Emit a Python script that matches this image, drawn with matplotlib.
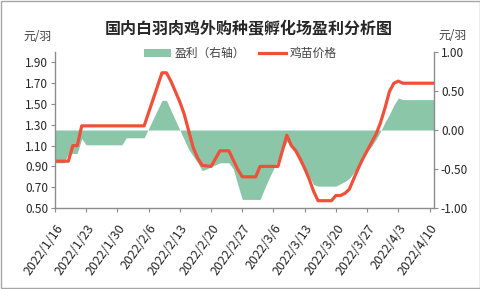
import numpy as np
import pandas as pd
import matplotlib
matplotlib.use("Agg")
import matplotlib.pyplot as plt
from matplotlib.patches import Patch, Rectangle
from matplotlib.lines import Line2D

plt.rcParams['font.family'] = ['Noto Sans CJK SC', 'DejaVu Sans']

# 鸡苗价格（元/羽），按日期的折点
price_dates = ["2022-01-16", "2022-01-19", "2022-01-20", "2022-01-21", "2022-01-22",
               "2022-02-05", "2022-02-09", "2022-02-10", "2022-02-11", "2022-02-12",
               "2022-02-13", "2022-02-14", "2022-02-15", "2022-02-16", "2022-02-17",
               "2022-02-18", "2022-02-20", "2022-02-22", "2022-02-24", "2022-02-25",
               "2022-02-26", "2022-02-27", "2022-03-02", "2022-03-03", "2022-03-07",
               "2022-03-09", "2022-03-10", "2022-03-11", "2022-03-12", "2022-03-13",
               "2022-03-14", "2022-03-15", "2022-03-16", "2022-03-19", "2022-03-20",
               "2022-03-21", "2022-03-22", "2022-03-23", "2022-03-24", "2022-03-25",
               "2022-03-26", "2022-03-27", "2022-03-28", "2022-03-29", "2022-03-30",
               "2022-03-31", "2022-04-01", "2022-04-02", "2022-04-03", "2022-04-04",
               "2022-04-11"]
price_vals = [0.95, 0.95, 1.10, 1.10, 1.29,
              1.29, 1.80, 1.80, 1.72, 1.62,
              1.52, 1.40, 1.24, 1.08, 0.98,
              0.91, 0.90, 1.05, 1.05, 0.96,
              0.87, 0.80, 0.80, 0.90, 0.90,
              1.20, 1.10, 1.05, 0.97, 0.88,
              0.78, 0.66, 0.57, 0.57, 0.62,
              0.62, 0.64, 0.68, 0.78, 0.88,
              0.97, 1.05, 1.13, 1.21, 1.32,
              1.46, 1.62, 1.70, 1.72, 1.70,
              1.70]

# 盈利（元/羽，右轴），按日期的折点
profit_dates = ["2022-01-16", "2022-01-18", "2022-01-19", "2022-01-21", "2022-01-22",
                "2022-01-23", "2022-01-31", "2022-02-01", "2022-02-05", "2022-02-09",
                "2022-02-10", "2022-02-13", "2022-02-15", "2022-02-17", "2022-02-18",
                "2022-02-19", "2022-02-22", "2022-02-24", "2022-02-25", "2022-02-26",
                "2022-02-27", "2022-03-03", "2022-03-04", "2022-03-05", "2022-03-06",
                "2022-03-07", "2022-03-08", "2022-03-09", "2022-03-10", "2022-03-11",
                "2022-03-12", "2022-03-13", "2022-03-14", "2022-03-15", "2022-03-16",
                "2022-03-20", "2022-03-21", "2022-03-22", "2022-03-23", "2022-03-24",
                "2022-03-25", "2022-03-26", "2022-03-27", "2022-03-28", "2022-03-29",
                "2022-03-30", "2022-03-31", "2022-04-01", "2022-04-02", "2022-04-03",
                "2022-04-04", "2022-04-11"]
profit_vals = [-0.42, -0.42, -0.30, -0.30, -0.11,
               -0.19, -0.19, -0.10, -0.10, 0.38,
               0.38, 0.00, -0.25, -0.42, -0.52,
               -0.50, -0.42, -0.42, -0.50, -0.70,
               -0.89, -0.89, -0.75, -0.62, -0.50,
               -0.38, -0.27, -0.15, -0.18, -0.30,
               -0.40, -0.50, -0.59, -0.70, -0.72,
               -0.72, -0.69, -0.66, -0.62, -0.55,
               -0.45, -0.35, -0.27, -0.21, -0.12,
               -0.02, 0.10, 0.20, 0.32, 0.41,
               0.39, 0.39]

tick_dates = pd.date_range("2022-01-16", "2022-04-10", freq="7D")

px = pd.to_datetime(price_dates)
gx = pd.to_datetime(profit_dates)

red = '#F0503A'
green = '#8BC6A9'
grey = '#8C8C8C'

fig = plt.figure(figsize=(4.81, 2.89), dpi=100)
fig.patches.append(Rectangle((0.002, 0.003), 0.995, 0.993, transform=fig.transFigure,
                             fill=False, edgecolor='#A6A6A6', linewidth=1.0))

ax = fig.add_axes([0.1143, 0.2803, 0.7880, 0.5397])
ax2 = ax.twinx()

ax2.fill_between(gx, profit_vals, 0, color=green, linewidth=0)
ax.plot(px, price_vals, color=red, linewidth=2.3, solid_joinstyle='round')

ax.set_zorder(ax2.get_zorder() + 1)
ax.patch.set_visible(False)

ax.set_ylim(0.5, 2.0)
ax.set_yticks(np.arange(0.5, 1.91, 0.2))
ax.set_yticklabels([f"{v:.2f}" for v in np.arange(0.5, 1.91, 0.2)])
ax2.set_ylim(-1.0, 1.0)
ax2.set_yticks([-1.0, -0.5, 0.0, 0.5, 1.0])
ax2.set_yticklabels([f"{v:.2f}" for v in [-1.0, -0.5, 0.0, 0.5, 1.0]])

ax.set_xlim(pd.Timestamp("2022-01-16"), pd.Timestamp("2022-04-11"))
ax.set_xticks(tick_dates)
ax.set_xticklabels([f"{d.year}/{d.month}/{d.day}" for d in tick_dates],
                   rotation=55, ha='right', rotation_mode='anchor')

for a in (ax, ax2):
    a.spines['top'].set_visible(False)
    for s in ('left', 'right', 'bottom'):
        a.spines[s].set_color(grey)
        a.spines[s].set_linewidth(1.0)
    a.tick_params(axis='both', colors=grey, labelcolor='#262626', labelsize=8.5,
                  length=3, width=0.8, pad=2)
ax.tick_params(axis='x', pad=7, labelsize=9)
ax.spines['right'].set_visible(False)
ax2.spines['left'].set_visible(False)
ax2.spines['bottom'].set_visible(False)

fig.text(0.518, 0.900, "国内白羽肉鸡外购种蛋孵化场盈利分析图", ha='center', va='center',
         fontsize=11.5, fontweight='bold', color='#262626')
fig.text(0.077, 0.872, "元/羽", ha='center', va='center', fontsize=8.5, color='#404040')
fig.text(0.940, 0.878, "元/羽", ha='center', va='center', fontsize=8.5, color='#404040')

handles = [Patch(facecolor=green, edgecolor='none'),
           Line2D([0], [0], color=red, linewidth=2.3)]
fig.legend(handles, ["盈利（右轴）", "鸡苗价格"], loc='center', bbox_to_anchor=(0.50, 0.815),
           ncol=2, frameon=False, fontsize=8.5, handlelength=2.3, handleheight=0.6,
           columnspacing=1.2, handletextpad=0.3, labelcolor='#404040')

fig.savefig("out.png", dpi=100)
